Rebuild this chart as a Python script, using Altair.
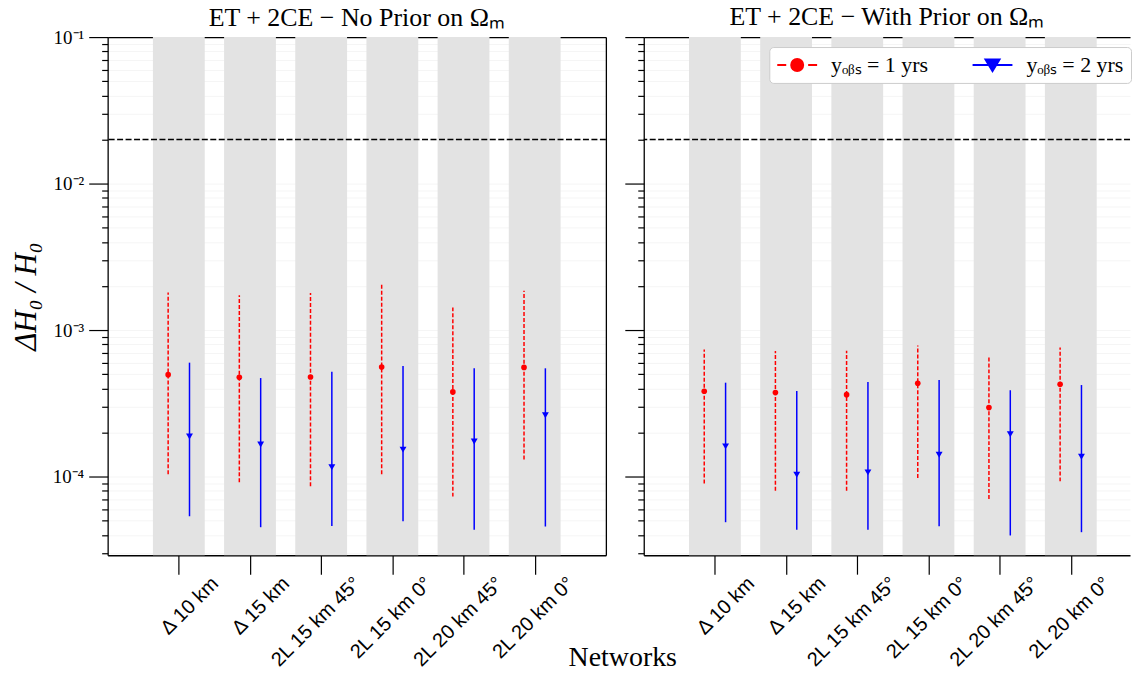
import json
import altair as alt
import pandas as pd

# ---------------- data ----------------
networks = ["Δ 10 km", "Δ 15 km", "2L 15 km 45°", "2L 15 km 0°", "2L 20 km 45°", "2L 20 km 0°"]
positions = [1, 2, 3, 4, 5, 6]

# No prior on Omega_M
np_red_mid = [4.97e-4, 4.77e-4, 4.79e-4, 5.60e-4, 3.79e-4, 5.57e-4]
np_red_lo = [1.04e-4, 9.15e-5, 8.60e-5, 1.04e-4, 7.31e-5, 1.31e-4]
np_red_hi = [1.81e-3, 1.73e-3, 1.79e-3, 2.08e-3, 1.43e-3, 1.86e-3]
np_blue_mid = [1.88e-4, 1.66e-4, 1.16e-4, 1.53e-4, 1.74e-4, 2.63e-4]
np_blue_lo = [5.37e-5, 4.52e-5, 4.60e-5, 4.97e-5, 4.34e-5, 4.57e-5]
np_blue_hi = [6.00e-4, 4.71e-4, 5.20e-4, 5.70e-4, 5.49e-4, 5.49e-4]

# With prior on Omega_M
wp_red_mid = [3.83e-4, 3.75e-4, 3.63e-4, 4.34e-4, 2.96e-4, 4.27e-4]
wp_red_lo = [9.00e-5, 8.03e-5, 8.03e-5, 9.80e-5, 7.05e-5, 9.29e-5]
wp_red_hi = [7.39e-4, 7.20e-4, 7.23e-4, 7.87e-4, 6.55e-4, 7.62e-4]
wp_blue_mid = [1.61e-4, 1.03e-4, 1.07e-4, 1.41e-4, 1.95e-4, 1.37e-4]
wp_blue_lo = [4.89e-5, 4.34e-5, 4.34e-5, 4.59e-5, 3.97e-5, 4.18e-5]
wp_blue_hi = [4.38e-4, 3.85e-4, 4.43e-4, 4.57e-4, 3.89e-4, 4.22e-4]

threshold = [0.02]
legend_labels = ["yₒᵦₛ = 1 yrs", "yₒᵦₛ = 2 yrs"]
titles = ["ET + 2CE −  No Prior on Ωₘ", "ET + 2CE −  With Prior on Ωₘ"]

y_major = [1e-4, 1e-3, 1e-2, 1e-1]
y_minor = [m * d for d in [1e-5, 1e-4, 1e-3, 1e-2] for m in [2, 3, 4, 5, 6, 7, 8, 9] if m * d > 2.91e-5]
y_ticks = sorted(y_major + y_minor)

# ---------------- style ----------------
H = 520
W_LEFT, W_RIGHT = 500, 488
PX_PER_UNIT = 500 / 7.0
SERIF = "Liberation Serif"
SANS = "Liberation Sans"
OFF = 0.15
HALF_BAND = 0.364
SPINE = dict(domain=True, domainColor="black", domainWidth=1.3, labels=False, ticks=False,
             grid=False, title=None)

yscale = alt.Scale(type="log", domain=[2.91e-5, 0.1], nice=False)

E = "round(log(datum.value)/LN10)"
MAJ = f"abs(log(datum.value)/LN10 - {E}) < 0.001"
ylabel_expr = (f"{MAJ} ? ('10' + ({E} == -1 ? '⁻¹' : {E} == -2 ? '⁻²' : "
               f"{E} == -3 ? '⁻³' : '⁻⁴')) : ''")

xaxis = alt.Axis(
    orient="bottom", values=positions, title=None, grid=False,
    labelExpr=json.dumps(networks, ensure_ascii=False) + "[datum.value - 1]",
    labelAngle=315, labelAlign="right", labelBaseline="middle",
    labelOffset=36, labelPadding=6, labelFont=SANS, labelFontSize=20,
    tickSize=19, tickWidth=1.2, labelFlush=False, labelOverlap=False, labelBound=False,
    domainColor="black", domainWidth=1.3,
)
top_axis = alt.Axis(orient="top", **SPINE)
right_axis = alt.Axis(orient="right", **SPINE)


def yaxis(show_labels):
    kw = dict(
        orient="left", values=y_ticks, grid=True, gridColor="#000000", gridOpacity=0.055,
        gridWidth=0.8, tickSize={"condition": {"test": MAJ, "value": 19}, "value": 6},
        tickWidth=1.2, labelFlush=False, labelOverlap=False,
        domainColor="black", domainWidth=1.3,
    )
    if show_labels:
        return alt.Axis(title="ΔH₀ / H₀", titleFont=SERIF, titleFontSize=31,
                        titleFontStyle="italic", titleFontWeight="normal", titlePadding=10,
                        labelExpr=ylabel_expr, labelFont=SERIF, labelFontSize=19,
                        labelPadding=5, **kw)
    return alt.Axis(title=None, labels=False, **kw)


def panel(title, rm, rl, rh, bm, bl, bh, width, first, with_legend, title_offset):
    xscale = alt.Scale(domain=[0, width / PX_PER_UNIT], nice=False, zero=False)
    df = pd.DataFrame({
        "pos": positions, "rm": rm, "rl": rl, "rh": rh, "bm": bm, "bl": bl, "bh": bh,
    })
    df["xr"] = df["pos"] - OFF
    df["xb"] = df["pos"] + OFF
    df["b0"] = df["pos"] - HALF_BAND
    df["b1"] = df["pos"] + HALF_BAND
    base = alt.Chart(df)

    bands = base.mark_rect(color="#e3e3e3").encode(
        x=alt.X("b0:Q", scale=xscale, axis=xaxis), x2="b1:Q",
        y=alt.value(0), y2=alt.value(H),
    )
    hline = alt.Chart(pd.DataFrame({"thr": threshold})).mark_rule(
        color="black", strokeDash=[6, 2.5], strokeWidth=1.4
    ).encode(y=alt.Y("thr:Q", scale=yscale, axis=None))
    red_bar = base.mark_rule(color="red", strokeDash=[4, 2], strokeWidth=1.5).encode(
        x=alt.X("xr:Q", scale=xscale, axis=None),
        y=alt.Y("rl:Q", scale=yscale, axis=yaxis(first)), y2="rh:Q",
    )
    blue_bar = base.mark_rule(color="blue", strokeWidth=1.5).encode(
        x=alt.X("xb:Q", scale=xscale, axis=None),
        y=alt.Y("bl:Q", scale=yscale, axis=right_axis if first else None), y2="bh:Q",
    )
    red_pt = base.mark_point(filled=True, shape="circle", size=32, color="red", opacity=1).encode(
        x=alt.X("xr:Q", scale=xscale, axis=top_axis),
        y=alt.Y("rm:Q", scale=yscale, axis=None),
    )
    blue_pt = base.mark_point(filled=True, shape="triangle-down", size=48, color="blue", opacity=1).encode(
        x=alt.X("xb:Q", scale=xscale, axis=None),
        y=alt.Y("bm:Q", scale=yscale, axis=None),
    )

    layers = [bands, hline, red_bar, blue_bar, red_pt, blue_pt]

    if with_legend:
        # symbol box is 20px (size 400 -> unit = 10px); glyph drawn 40px wide from box left
        red_path = ("M-1,0H-0.1M2.1,0H3"
                    "M1.6,0A0.6,0.6,0,1,1,0.4,0A0.6,0.6,0,1,1,1.6,0Z")
        blue_path = "M-1,0H3M0.3,-0.55L1.7,-0.55L1,0.6Z"
        leg = alt.Legend(
            title=None, orient="none", legendX=126, legendY=10,
            direction="horizontal", columns=2,
            symbolSize=400, symbolStrokeWidth=2, symbolOpacity=1,
            labelFont=SERIF, labelFontSize=22, labelOffset=33, labelLimit=0,
            columnPadding=40, padding=7, strokeColor="#cccccc", fillColor="white",
            cornerRadius=4,
        )
        ldf = pd.DataFrame({"series": legend_labels})
        legend_layer = alt.Chart(ldf).mark_point(filled=True, opacity=0, strokeWidth=2).encode(
            x=alt.value(width / 2), y=alt.value(H / 2),
            fill=alt.Fill("series:N", scale=alt.Scale(domain=legend_labels, range=["red", "blue"]), legend=leg),
            stroke=alt.Stroke("series:N", scale=alt.Scale(domain=legend_labels, range=["red", "blue"]), legend=leg),
            shape=alt.Shape("series:N", scale=alt.Scale(domain=legend_labels, range=[red_path, blue_path]), legend=leg),
        )
        layers.append(legend_layer)

    return alt.layer(*layers).resolve_axis(x="independent", y="independent").properties(
        width=width, height=H,
        title=alt.TitleParams(title, font=SERIF, fontSize=26, fontWeight="normal",
                              color="black", anchor="middle", offset=title_offset, frame="group"),
    )


left = panel(titles[0], np_red_mid, np_red_lo, np_red_hi, np_blue_mid, np_blue_lo, np_blue_hi,
             W_LEFT, True, False, -3)
right = panel(titles[1], wp_red_mid, wp_red_lo, wp_red_hi, wp_blue_mid, wp_blue_lo, wp_blue_hi,
              W_RIGHT, False, True, 7)

chart = alt.hconcat(left, right, spacing=17).resolve_scale(
    fill="independent", stroke="independent", shape="independent"
).properties(
    title=alt.TitleParams("Networks", orient="bottom", anchor="middle", font=SERIF,
                          fontSize=28, fontWeight="normal", color="black", offset=-26, dx=52),
    padding={"left": 2, "top": -6, "right": 0, "bottom": 0},
).configure_view(
    stroke=None
).configure_axis(
    tickColor="black", labelColor="black", titleColor="black",
)

chart.save("out.html", embed_options={"renderer": "svg", "actions": False})
